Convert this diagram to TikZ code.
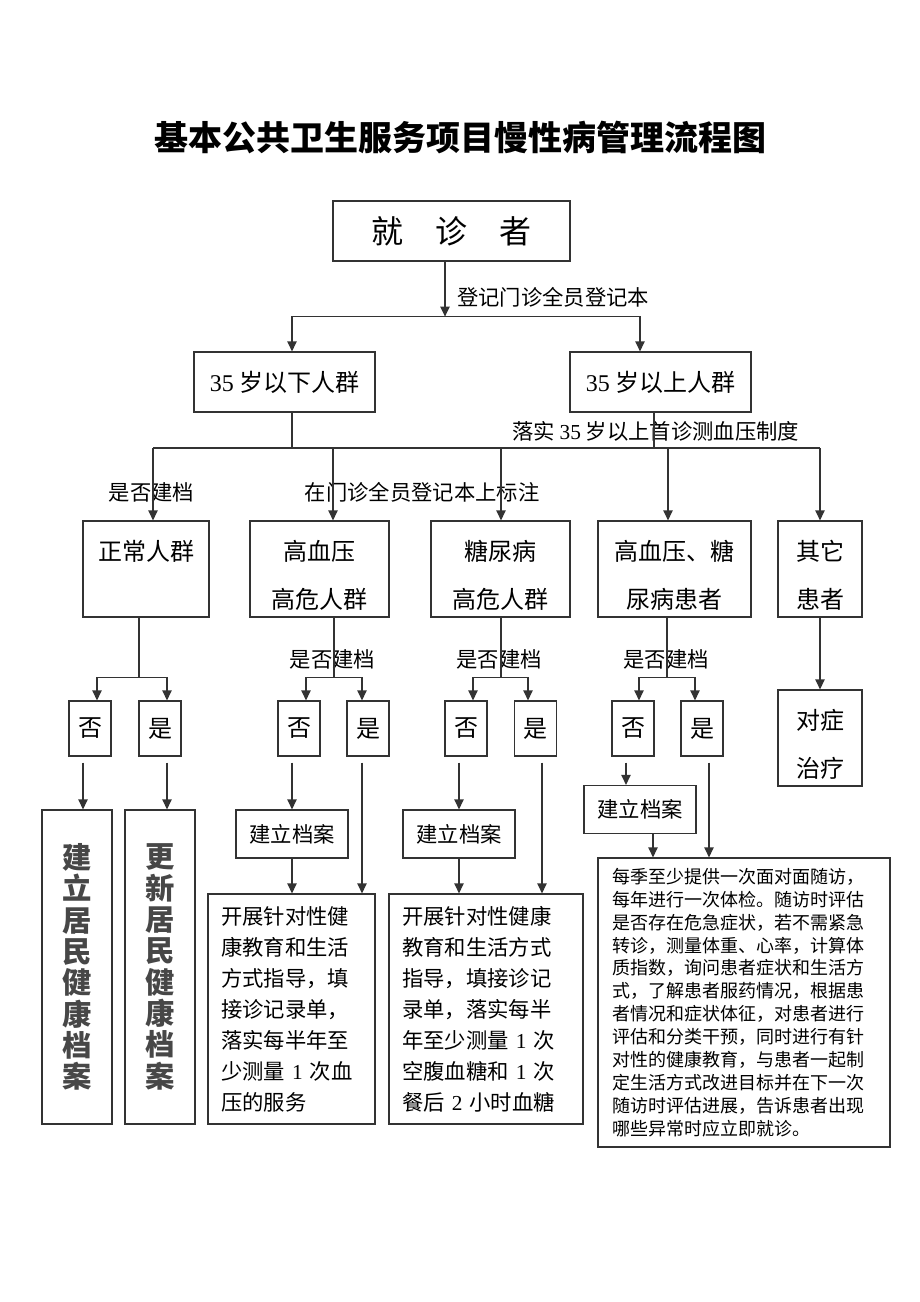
\documentclass[tikz,border=0pt]{standalone}
\usepackage{fontspec}
\setmainfont{Noto Sans CJK SC}
\newfontfamily\tnr{Liberation Serif}
\usetikzlibrary{positioning,arrows.meta,calc}
\newcommand{\fsz}[2]{\fontsize{#1}{#2}\selectfont}
\tikzset{
  box/.style={draw=black!80,line width=0.9pt,inner sep=0pt,align=center,font=\fsz{18pt}{36pt}},
  tall/.style={box,text height=65.25pt,text depth=6.75pt},
  yn/.style={box,minimum width=31.5pt,minimum height=41.25pt},
  rec/.style={box,minimum width=84pt,minimum height=36pt,font=\fsz{16pt}{20pt}},
  note/.style={box,align=left,inner xsep=9.75pt,font=\fsz{16pt}{23.25pt}},
  vtxt/.style={box,minimum width=52.5pt,minimum height=235.5pt,font=\fsz{22pt}{23.5pt}\bfseries,text=black!72},
  lbl/.style={inner sep=0pt,font=\fsz{16pt}{20pt}},
  ln/.style={draw=black!80,line width=0.9pt},
  arr/.style={ln,-{Triangle[length=7.5pt,width=7pt]}},
}
\begin{document}
\begin{tikzpicture}[x=0.75pt,y=-0.75pt]
  \useasboundingbox[fill=white] (0,0) rectangle (920,1302);
  \node[inner sep=0pt,font=\fsz{25.5pt}{30pt}\bfseries] (title) at (460,137) {基本公共卫生服务项目慢性病管理流程图};
  \node[box,minimum width=177.75pt,minimum height=45pt,font=\fsz{24pt}{28pt}] (jzz) at (451.5,231) {就\quad 诊\quad 者};
  \node[box,minimum width=135.75pt,minimum height=45pt] (lo) at (284.5,382) {{\tnr 35} 岁以下人群};
  \node[box,minimum width=135.75pt,minimum height=45pt] (hi) at (660.5,382) {{\tnr 35} 岁以上人群};
  % five groups
  \node[tall,minimum width=94.5pt,text height=29.25pt,text depth=42.75pt] (n1) at (146,569) {正常人群};
  \node[tall,minimum width=104.25pt] (n2) at (319.5,569) {高血压\\高危人群};
  \node[tall,minimum width=104.25pt] (n3) at (500.5,569) {糖尿病\\高危人群};
  \node[tall,minimum width=114.75pt] (n4) at (674.5,569) {高血压、糖\\尿病患者};
  \node[tall,minimum width=63pt] (n5) at (820,569) {其它\\患者};
  \node[yn] (no1) at (90,728.5) {否};
  \node[yn] (ye1) at (160,728.5) {是};
  \node[yn] (no2) at (299,728.5) {否};
  \node[yn] (ye2) at (368,728.5) {是};
  \node[yn] (no3) at (466,728.5) {否};
  \node[yn] (ye3) at (535.5,728.5) {是};
  \node[yn] (no4) at (633,728.5) {否};
  \node[yn] (ye4) at (702,728.5) {是};
  \node[tall,minimum width=63pt] (dz) at (820,738) {对症\\治疗};
  \node[vtxt] (jl1) at (77,967) {建\\立\\居\\民\\健\\康\\档\\案};
  \node[vtxt] (gx1) at (160,967) {更\\新\\居\\民\\健\\康\\档\\案};
  \node[rec] (jd2) at (292,834) {建立档案};
  \node[rec] (jd3) at (459,834) {建立档案};
  \node[rec] (jd4) at (640,809.5) {建立档案};
  \node[note,text width=105.75pt,minimum height=172.5pt] (kz1) at (291.5,1009) {开展针对性健\\康教育和生活\\方式指导，填\\接诊记录单，\\落实每半年至\\少测量 {\tnr 1} 次血\\压的服务};
  \node[note,text width=126pt,minimum height=172.5pt] (kz2) at (486,1009) {开展针对性健康\\教育和生活方式\\指导，填接诊记\\录单，落实每半\\年至少测量 {\tnr 1} 次\\空腹血糖和 {\tnr 1} 次\\餐后 {\tnr 2} 小时血糖};
  \node[note,inner xsep=10.5pt,text width=198pt,minimum height=216.75pt,font=\fsz{13.5pt}{17.2pt}] (mq) at (744,1002.5) {每季至少提供一次面对面随访，\\每年进行一次体检。随访时评估\\是否存在危急症状，若不需紧急\\转诊，测量体重、心率，计算体\\质指数，询问患者症状和生活方\\式，了解患者服药情况，根据患\\者情况和症状体征，对患者进行\\评估和分类干预，同时进行有针\\对性的健康教育，与患者一起制\\定生活方式改进目标并在下一次\\随访时评估进展，告诉患者出现\\哪些异常时应立即就诊。};
  % labels
  \node[lbl,anchor=west] (djb) at (457,297) {登记门诊全员登记本};
  \node[lbl,anchor=west] (lsh) at (512,431) {落实 {\tnr 35} 岁以上首诊测血压制度};
  \node[lbl] (sf1) at (151.5,492) {是否建档};
  \node[lbl] (bz) at (422,492) {在门诊全员登记本上标注};
  \node[lbl] (sf2) at (332.5,659) {是否建档};
  \node[lbl] (sf3) at (499,659) {是否建档};
  \node[lbl] (sf4) at (666,659) {是否建档};
  % top split
  \coordinate (split) at ($(jzz.south)+(-6.5,55)$);
  \draw[arr] ($(jzz.south)+(-6.5,0)$) -- (split);
  \draw[arr] (split) -| ($(lo.north)+(7.5,0)$);
  \draw[arr] (split) -| ($(hi.north)+(-20.5,0)$);
  % bus to the five groups
  \coordinate (bus) at (0,448);
  \draw[ln] ($(lo.south)+(7.5,0)$) -- ($(lo.south |- bus)+(7.5,0)$);
  \draw[ln] ($(hi.south)+(-6.5,0)$) -- ($(hi.south |- bus)+(-6.5,0)$);
  \draw[ln] ($(n1.north |- bus)+(7,0)$) -- (n5.north |- bus);
  \draw[arr] ($(n1.north |- bus)+(7,0)$) -- ($(n1.north)+(7,0)$);
  \draw[arr] ($(n2.north |- bus)+(13.5,0)$) -- ($(n2.north)+(13.5,0)$);
  \draw[arr] ($(n3.north |- bus)+(0.5,0)$) -- ($(n3.north)+(0.5,0)$);
  \draw[arr] ($(n4.north |- bus)+(-6.5,0)$) -- ($(n4.north)+(-6.5,0)$);
  \draw[arr] (n5.north |- bus) -- (n5.north);
  % yes / no forks
  \draw[ln] ($(n1.south)+(-7,0)$) -- ($(n1.south)+(-7,60)$) coordinate (s1);
  \draw[arr] (s1) -| ($(no1.north)+(7,0)$);
  \draw[arr] (s1) -| ($(ye1.north)+(7,0)$);
  \draw[ln] ($(n2.south)+(14.5,0)$) -- ($(n2.south)+(14.5,60)$) coordinate (s2);
  \draw[arr] (s2) -| ($(no2.north)+(7,0)$);
  \draw[arr] (s2) -| ($(ye2.north)+(-6,0)$);
  \draw[ln] ($(n3.south)+(0.5,0)$) -- ($(n3.south)+(0.5,60)$) coordinate (s3);
  \draw[arr] (s3) -| ($(no3.north)+(7,0)$);
  \draw[arr] (s3) -| ($(ye3.north)+(-7.5,0)$);
  \draw[ln] ($(n4.south)+(-7.5,0)$) -- ($(n4.south)+(-7.5,60)$) coordinate (s4);
  \draw[arr] (s4) -| ($(no4.north)+(6,0)$);
  \draw[arr] (s4) -| ($(ye4.north)+(-7,0)$);
  \draw[arr] (n5) -- (dz);
  % records and follow-up
  \draw[arr,shorten <=4.5pt] ($(no1.south)+(-7,0)$) -- ($(jl1.north)+(6,0)$);
  \draw[arr,shorten <=4.5pt] ($(ye1.south)+(7,0)$) -- ($(gx1.north)+(7,0)$);
  \draw[arr,shorten <=4.5pt] ($(no2.south)+(-7,0)$) -- (jd2.north);
  \draw[arr] (jd2.south) -- ($(kz1.north)+(0.5,0)$);
  \draw[arr,shorten <=4.5pt] ($(ye2.south)+(-6,0)$) -- ($(kz1.north)+(70.5,0)$);
  \draw[arr,shorten <=4.5pt] ($(no3.south)+(-7,0)$) -- (jd3.north);
  \draw[arr] (jd3.south) -- ($(kz2.north)+(-27,0)$);
  \draw[arr,shorten <=4.5pt] ($(ye3.south)+(6.5,0)$) -- ($(kz2.north)+(56,0)$);
  \draw[arr,shorten <=4.5pt] ($(no4.south)+(-7,0)$) -- ($(jd4.north)+(-14,0)$);
  \draw[arr] ($(jd4.south)+(13,0)$) -- ($(mq.north)+(-91,0)$);
  \draw[arr,shorten <=4.5pt] ($(ye4.south)+(7,0)$) -- ($(mq.north)+(-35,0)$);
\end{tikzpicture}
\end{document}
